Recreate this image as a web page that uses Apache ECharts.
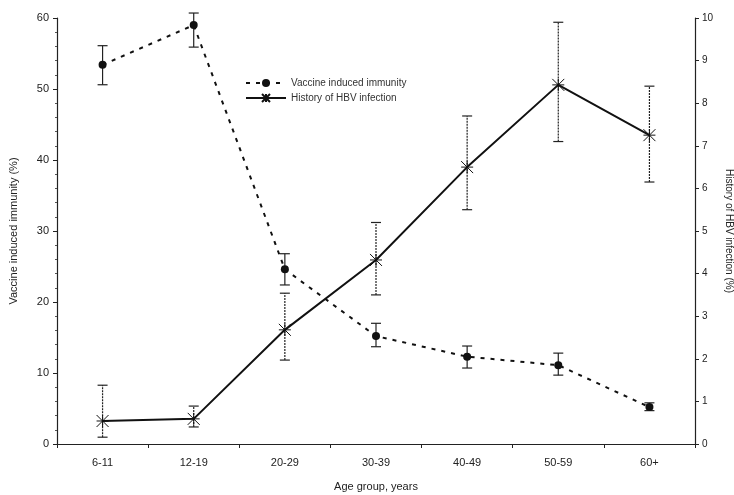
<!DOCTYPE html>
<html><head><meta charset="utf-8">
<script src="https://cdn.jsdelivr.net/npm/echarts@6/dist/echarts.min.js"></script>
<style>html,body{margin:0;padding:0;background:#fff}#c{width:734px;height:495px}</style>
</head><body><div id="c"></div>
<script>
const categories = ['6-11','12-19','20-29','30-39','40-49','50-59','60+'];
const vaccine = [53.4, 59.0, 24.6, 15.2, 12.3, 11.1, 5.2];
const vaccineLow = [50.6, 55.9, 22.4, 13.7, 10.7, 9.7, 4.7];
const vaccineHigh = [56.1, 60.7, 26.8, 17.0, 13.8, 12.8, 5.8];
const hbv = [0.54, 0.59, 2.68, 4.32, 6.5, 8.43, 7.25];
const hbvLow = [0.16, 0.40, 1.97, 3.5, 5.5, 7.1, 6.15];
const hbvHigh = [1.38, 0.89, 3.54, 5.2, 7.7, 9.9, 8.4];
const leftTicks = [0,10,20,30,40,50,60];
const rightTicks = [0,1,2,3,4,5,6,7,8,9,10];

const chart = echarts.init(document.getElementById('c'));
const font = 'Liberation Sans';
function errItem(axisIdx){
  return function(params, api){
    const x = api.value(0);
    const lo = api.coord([x, api.value(1)]);
    const hi = api.coord([x, api.value(2)]);
    const w = 5;
    const st = {stroke:'#222', lineWidth:1.2, lineDash: axisIdx===1 ? [2,1] : null};
    return {type:'group', children:[
      {type:'line', shape:{x1:lo[0],y1:lo[1],x2:hi[0],y2:hi[1]}, style:st},
      {type:'line', shape:{x1:lo[0]-w,y1:lo[1],x2:lo[0]+w,y2:lo[1]}, style:{stroke:'#222',lineWidth:1.2}},
      {type:'line', shape:{x1:hi[0]-w,y1:hi[1],x2:hi[0]+w,y2:hi[1]}, style:{stroke:'#222',lineWidth:1.2}}
    ]};
  };
}
chart.setOption({
  animation:false,
  textStyle:{fontFamily:font},
  grid:{left:57, right:39, top:18, bottom:51, containLabel:false, outerBoundsMode:'none'},
  legend:{
    left:240, top:73, orient:'vertical', itemGap:5, itemWidth:40, itemHeight:10,
    textStyle:{fontSize:10, color:'#333', fontFamily:font},
    data:['Vaccine induced immunity','History of HBV infection']
  },
  xAxis:{
    type:'category', data:categories, boundaryGap:true,
    name:'Age group, years', nameLocation:'middle', nameGap:37,
    nameTextStyle:{fontSize:11, color:'#222'},
    axisLine:{lineStyle:{color:'#222', width:1.2}},
    axisTick:{show:true, alignWithLabel:false, length:4, inside:false, lineStyle:{color:'#222'}},
    axisLabel:{fontSize:11, color:'#222', margin:13}
  },
  yAxis:[{
    type:'value', min:0, max:60, interval:10,
    name:'Vaccine induced immunity (%)', nameLocation:'middle', nameGap:38, nameRotate:90,
    nameTextStyle:{fontSize:11, color:'#222'},
    axisLine:{show:true, lineStyle:{color:'#222', width:1.2}},
    axisTick:{show:true, length:4, lineStyle:{color:'#222'}},
    minorTick:{show:true, splitNumber:5, length:2, lineStyle:{color:'#555'}},
    axisLabel:{fontSize:11, color:'#222', margin:8},
    splitLine:{show:false}
  },{
    type:'value', min:0, max:10, interval:1, position:'right',
    name:'History of HBV infection (%)', nameLocation:'middle', nameGap:4, nameRotate:-90,
    nameTextStyle:{fontSize:10, color:'#222'},
    axisLine:{show:true, lineStyle:{color:'#222', width:1.2}},
    axisTick:{show:true, length:4, lineStyle:{color:'#222'}},
    axisLabel:{fontSize:10, color:'#222', margin:7},
    splitLine:{show:false}
  }],
  series:[
    {name:'Vaccine induced immunity', type:'line', yAxisIndex:0, data:vaccine,
     symbol:'circle', symbolSize:8, itemStyle:{color:'#111'},
     lineStyle:{color:'#111', width:2, type:[4,6]}, z:5},
    {name:'History of HBV infection', type:'line', yAxisIndex:1, data:hbv,
     symbol:'path://M0,0 L10,10 M10,0 L0,10 M5,0 L5,10 M0,5 L10,5', symbolSize:12,
     itemStyle:{color:'#111', borderColor:'#111', borderWidth:1},
     lineStyle:{color:'#111', width:2}, z:5},
    {type:'custom', yAxisIndex:0, renderItem:errItem(0),
     data:categories.map((c,i)=>[i, vaccineLow[i], vaccineHigh[i]]), z:4, silent:true},
    {type:'custom', yAxisIndex:1, renderItem:errItem(1),
     data:categories.map((c,i)=>[i, hbvLow[i], hbvHigh[i]]), z:4, silent:true}
  ]
});
</script></body></html>
